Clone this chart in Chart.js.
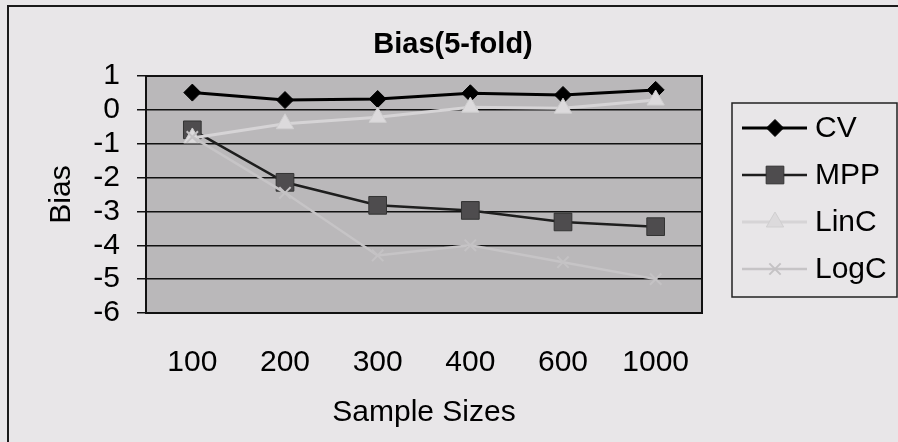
<!DOCTYPE html>
<html>
<head>
<meta charset="utf-8">
<script src="https://cdn.jsdelivr.net/npm/chart.js@4.4.1/dist/chart.umd.min.js"></script>
<style>
html, body { margin: 0; padding: 0; background: #e8e6e8; }
</style>
</head>
<body>
<canvas id="myChart" width="898" height="442"></canvas>
<script>
// values
const sampleSizes = ['100', '200', '300', '400', '600', '1000'];
const cvBias   = [0.51, 0.29, 0.32, 0.49, 0.44, 0.59];
const mppBias  = [-0.59, -2.14, -2.82, -2.97, -3.31, -3.45];
const lincBias = [-0.83, -0.41, -0.22, 0.08, 0.05, 0.29];
const logcBias = [-0.8, -2.45, -4.3, -4.0, -4.5, -5.0];
const yTicks = [1, 0, -1, -2, -3, -4, -5, -6];

const FONT = "'Liberation Sans', Arial, sans-serif";

// background, frame, plot area
const framePlugin = {
    id: 'frame',
    beforeDraw(chart) {
        const { ctx, chartArea: a, width, height } = chart;
        ctx.save();
        ctx.fillStyle = '#e8e6e8';
        ctx.fillRect(0, 0, width, height);
        ctx.strokeStyle = '#1a1a1a';
        ctx.lineWidth = 2;
        ctx.beginPath();
        ctx.moveTo(8, height);
        ctx.lineTo(8, 6);
        ctx.lineTo(width, 6);
        ctx.stroke();
        ctx.fillStyle = '#bab8ba';
        ctx.fillRect(a.left, a.top, a.right - a.left, a.bottom - a.top);
        ctx.restore();
    },
    beforeDatasetsDraw(chart) {
        const { ctx, chartArea: a } = chart;
        ctx.save();
        ctx.strokeStyle = '#111';
        ctx.lineWidth = 2;
        ctx.strokeRect(a.left, a.top, a.right - a.left, a.bottom - a.top);
        ctx.restore();
    },
    afterDraw(chart) {
        const { ctx } = chart;
        ctx.save();
        // title
        ctx.fillStyle = '#000';
        ctx.font = 'bold 29px ' + FONT;
        ctx.textAlign = 'center';
        ctx.textBaseline = 'middle';
        ctx.fillText('Bias(5-fold)', 453, 45);

        // legend box
        ctx.strokeStyle = '#222';
        ctx.lineWidth = 1.5;
        ctx.strokeRect(732, 103, 165, 194);
        chart.data.datasets.forEach((ds, i) => {
            const y = 128 + 47 * i;
            ctx.strokeStyle = ds.borderColor;
            ctx.lineWidth = ds.borderWidth;
            ctx.beginPath();
            ctx.moveTo(742, y);
            ctx.lineTo(807, y);
            ctx.stroke();
            ctx.fillStyle = ds.pointBackgroundColor;
            ctx.strokeStyle = ds.pointBorderColor;
            ctx.lineWidth = ds.pointBorderWidth;
            Chart.helpers.drawPoint(ctx, {
                pointStyle: ds.pointStyle,
                radius: ds.pointRadius,
                borderWidth: ds.pointBorderWidth,
                rotation: 0,
            }, 775, y);
            ctx.fillStyle = '#000';
            ctx.font = '30px ' + FONT;
            ctx.textAlign = 'left';
            ctx.textBaseline = 'middle';
            ctx.fillText(ds.label, 815, y + 1);
        });
        ctx.restore();
    },
};

const data = {
    labels: sampleSizes,
    datasets: [
        {
            label: 'CV',
            data: cvBias,
            borderColor: '#000',
            borderWidth: 3,
            pointStyle: 'rectRot',
            pointRadius: 8.5,
            pointBackgroundColor: '#000',
            pointBorderColor: '#000',
            pointBorderWidth: 1,
            order: 4,
        },
        {
            label: 'MPP',
            data: mppBias,
            borderColor: '#1e1e1e',
            borderWidth: 2.5,
            pointStyle: 'rect',
            pointRadius: 12.5,
            pointBackgroundColor: '#4e4c4e',
            pointBorderColor: '#333',
            pointBorderWidth: 1,
            order: 3,
        },
        {
            label: 'LinC',
            data: lincBias,
            borderColor: '#d6d4d6',
            borderWidth: 3,
            pointStyle: 'triangle',
            pointRadius: 10,
            pointBackgroundColor: '#dcdadc',
            pointBorderColor: '#d0cfd0',
            pointBorderWidth: 1,
            order: 2,
        },
        {
            label: 'LogC',
            data: logcBias,
            borderColor: '#c6c4c6',
            borderWidth: 2.5,
            pointStyle: 'crossRot',
            pointRadius: 8,
            pointBackgroundColor: '#c4c2c4',
            pointBorderColor: '#c4c2c4',
            pointBorderWidth: 2,
            order: 1,
        },
    ],
};

var ctx = document.getElementById('myChart').getContext('2d');

var myChart = new Chart(ctx, {
    type: 'line',
    data: data,
    options: {
        responsive: false,
        animation: false,
        layout: { padding: { top: 76, left: 8, right: 196, bottom: 0 } },
        plugins: {
            legend: { display: false },
            title: { display: false },
            tooltip: { enabled: false },
        },
        elements: { line: { tension: 0 } },
        scales: {
            x: {
                offset: true,
                afterFit(scale) { scale.height = 129; },
                grid: { display: false, drawTicks: false },
                border: { display: true, color: '#111', width: 2 },
                ticks: { color: '#000', font: { family: FONT, size: 30 }, padding: 32 },
                title: {
                    display: true,
                    text: 'Sample Sizes',
                    color: '#000',
                    font: { family: FONT, size: 30 },
                    padding: { top: 0, bottom: 11 },
                },
            },
            y: {
                min: -6,
                max: 1,
                afterFit(scale) { scale.width = 138; },
                afterBuildTicks(scale) { scale.ticks = yTicks.map(v => ({ value: v })); },
                grid: { color: '#111', lineWidth: 1.5, tickLength: 9, drawTicks: true },
                border: { display: true, color: '#111', width: 2 },
                ticks: { color: '#000', font: { family: FONT, size: 30 }, padding: 17, autoSkip: false },
                title: {
                    display: true,
                    text: 'Bias',
                    color: '#000',
                    font: { family: FONT, size: 30 },
                    padding: { top: 36, bottom: 0 },
                },
            },
        },
    },
    plugins: [framePlugin],
});
</script>
</body>
</html>
